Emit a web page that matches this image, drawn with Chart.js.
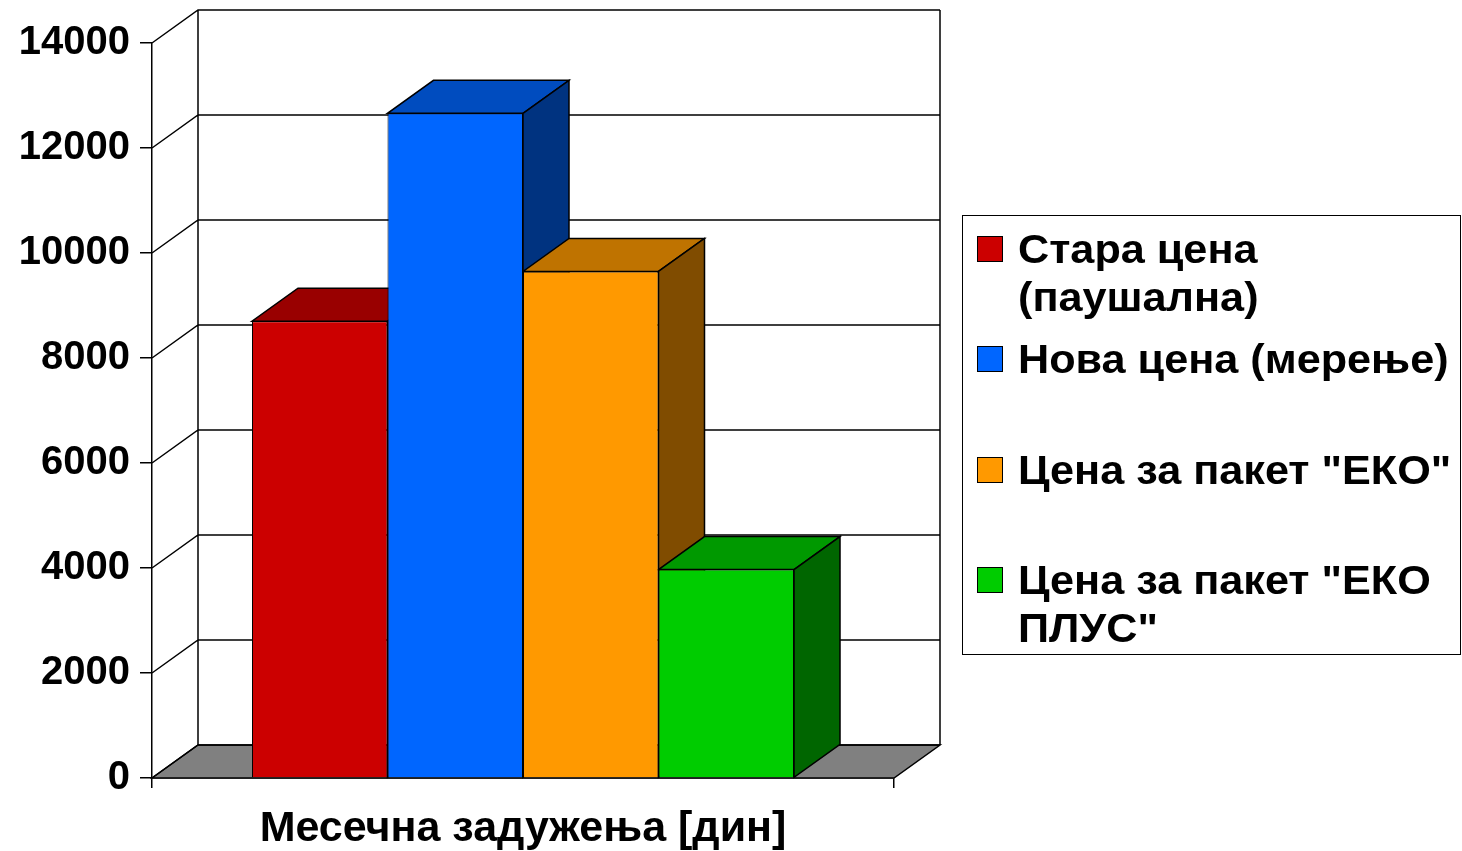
<!DOCTYPE html>
<html>
<head>
<meta charset="utf-8">
<title>Месечна задужења</title>
<script src="https://cdn.jsdelivr.net/npm/chart.js@4.4.0/dist/chart.umd.min.js"></script>
<style>
    html, body { margin: 0; padding: 0; background: #fff; }
    #wrap { position: relative; width: 1462px; height: 851px; }
    #legend {
        position: absolute; left: 962px; top: 215px; width: 497px; height: 438px;
        border: 1.5px solid #000; box-sizing: content-box;
        font: bold 40px 'Liberation Sans', Arial, sans-serif; color: #000;
    }
    .item { position: absolute; left: 0; width: 100%; }
    .swatch { position: absolute; left: 14px; top: 11px; width: 24px; height: 24px; border: 1.5px solid #000; }
    .text {
        position: absolute; left: 55px; top: 0; width: 407px; line-height: 48px; white-space: normal;
        transform: scaleX(1.08); transform-origin: left top;
    }
</style>
</head>
<body>
<div id="wrap">
    <canvas id="chart" width="1462" height="851"></canvas>
    <div id="legend"></div>
</div>
<script>
const categories = ['Месечна задужења [дин]'];
const seriesNames = ['Стара цена (паушална)', 'Нова цена (мерење)', 'Цена за пакет "ЕКО"', 'Цена за пакет "ЕКО ПЛУС"'];
const staraCena = [8700];
const novaCena = [12660];
const ekoCena = [9650];
const ekoPlusCena = [3970];
const yTicks = [0, 2000, 4000, 6000, 8000, 10000, 12000, 14000];

// front / top / side colours for each series
const frontColors = ['#CC0000', '#0066FF', '#FF9900', '#00CC00'];
const topColors = ['#990000', '#004CBF', '#BF7300', '#009900'];
const sideColors = ['#660000', '#003380', '#804C00', '#006600'];

const DX = 46, DY = -33;   // depth offset of the 3D box

function poly(ctx, pts) {
    ctx.beginPath();
    ctx.moveTo(pts[0][0], pts[0][1]);
    pts.slice(1).forEach(p => ctx.lineTo(p[0], p[1]));
    ctx.closePath();
}

const box3d = {
    id: 'box3d',
    beforeDatasetsDraw(chart) {
        const { ctx, chartArea: a } = chart;
        const y = chart.scales.y;
        ctx.save();
        ctx.lineWidth = 1.5;
        ctx.strokeStyle = '#000';

        // floor
        ctx.fillStyle = '#808080';
        poly(ctx, [[a.left, a.bottom], [a.right, a.bottom], [a.right + DX, a.bottom + DY], [a.left + DX, a.bottom + DY]]);
        ctx.fill();
        ctx.stroke();

        // back wall + side wall grid
        ctx.beginPath();
        yTicks.forEach(v => {
            const py = y.getPixelForValue(v);
            ctx.moveTo(a.left, py);
            ctx.lineTo(a.left + DX, py + DY);
            ctx.lineTo(a.right + DX, py + DY);
        });
        ctx.moveTo(a.left + DX, a.top + DY);
        ctx.lineTo(a.left + DX, a.bottom + DY);
        ctx.moveTo(a.right + DX, a.top + DY);
        ctx.lineTo(a.right + DX, a.bottom + DY);
        ctx.stroke();

        // top and side faces of the bars, left to right
        chart.data.datasets.forEach((ds, i) => {
            chart.getDatasetMeta(i).data.forEach(bar => {
                const l = bar.x - bar.width / 2, r = bar.x + bar.width / 2;
                const t = bar.y, b = bar.base;
                ctx.fillStyle = topColors[i];
                poly(ctx, [[l, t], [r, t], [r + DX, t + DY], [l + DX, t + DY]]);
                ctx.fill(); ctx.stroke();
                ctx.fillStyle = sideColors[i];
                poly(ctx, [[r, t], [r + DX, t + DY], [r + DX, b + DY], [r, b]]);
                ctx.fill(); ctx.stroke();
            });
        });
        ctx.restore();
    }
};

const values = [staraCena, novaCena, ekoCena, ekoPlusCena];
const family = "'Liberation Sans', Arial, sans-serif";

new Chart(document.getElementById('chart'), {
    type: 'bar',
    data: {
        labels: categories,
        datasets: seriesNames.map((name, i) => ({
            label: name,
            data: values[i],
            backgroundColor: frontColors[i],
            borderColor: '#000',
            borderWidth: 1,
            categoryPercentage: 0.7305,
            barPercentage: 1
        }))
    },
    options: {
        responsive: false,
        animation: false,
        layout: { padding: { top: 43, right: 568, bottom: 0, left: 0 } },
        plugins: {
            legend: { display: false },
            tooltip: { enabled: false }
        },
        scales: {
            x: {
                offset: true,
                grid: { offset: true, drawOnChartArea: false, tickLength: 10, color: '#000', lineWidth: 1.5 },
                border: { color: '#000', width: 1.5 },
                ticks: { font: { family, size: 43, weight: 'bold' }, color: '#000', padding: 15, maxRotation: 0 },
                afterFit: s => { s.height = 73; }
            },
            y: {
                min: yTicks[0],
                max: yTicks[yTicks.length - 1],
                afterBuildTicks: s => { s.ticks = yTicks.map(v => ({ value: v })); },
                grid: { drawOnChartArea: false, tickLength: 12, color: '#000', lineWidth: 1.5 },
                border: { color: '#000', width: 1.5 },
                ticks: { font: { family, size: 40, weight: 'bold' }, color: '#000', padding: 10, callback: v => String(v) },
                afterFit: s => { s.width = 152; }
            }
        }
    },
    plugins: [box3d]
});

// legend box
const legendTops = [9, 119, 230, 340];
document.getElementById('legend').innerHTML = seriesNames.map((name, i) => `
    <div class="item" style="top:${legendTops[i]}px">
        <span class="swatch" style="background:${frontColors[i]}"></span>
        <div class="text">${name}</div>
    </div>
`).join('');
</script>
</body>
</html>
